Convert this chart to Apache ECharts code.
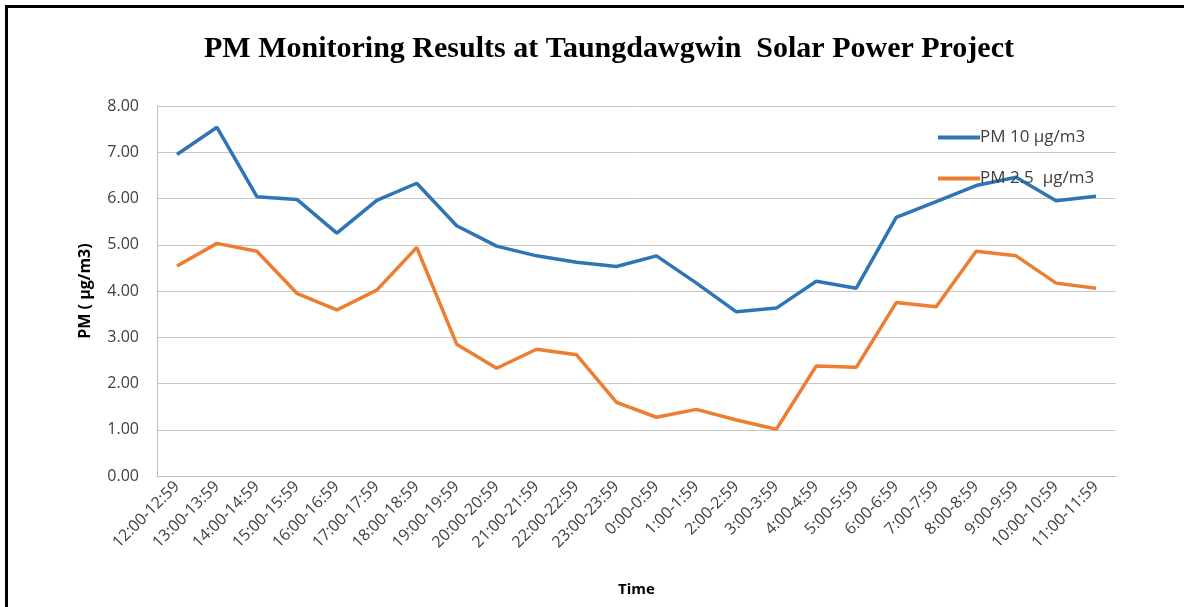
<!DOCTYPE html>
<html>
<head>
<meta charset="utf-8">
<script src="https://cdn.jsdelivr.net/npm/echarts@6/dist/echarts.min.js"></script>
<style>
  body { margin: 0; background: #fff; }
  #frame {
    position: absolute; left: 5px; top: 5px; width: 1179px; height: 599px;
    border-top: 3px solid #000; border-left: 3px solid #000; border-bottom: 2px solid #8c8c8c;
    pointer-events: none;
  }
</style>
</head>
<body>
<div id="myChartLine" style="position:absolute;left:0;top:0;width:1184px;height:607px;"></div>
<div id="frame"></div>
<script type="text/javascript">
var hours = ['12:00-12:59','13:00-13:59','14:00-14:59','15:00-15:59','16:00-16:59','17:00-17:59',
    '18:00-18:59','19:00-19:59','20:00-20:59','21:00-21:59','22:00-22:59','23:00-23:59',
    '0:00-0:59','1:00-1:59','2:00-2:59','3:00-3:59','4:00-4:59','5:00-5:59',
    '6:00-6:59','7:00-7:59','8:00-8:59','9:00-9:59','10:00-10:59','11:00-11:59'];
var pm10 = [6.95,7.54,6.04,5.98,5.25,5.96,6.33,5.41,4.97,4.76,4.62,4.53,
    4.76,4.17,3.55,3.63,4.21,4.06,5.59,5.93,6.28,6.46,5.95,6.05];
var pm25 = [4.54,5.03,4.86,3.95,3.59,4.02,4.94,2.85,2.33,2.74,2.62,1.59,
    1.27,1.44,1.21,1.01,2.38,2.35,3.75,3.66,4.86,4.76,4.17,4.06];
var yTicks = [0,1,2,3,4,5,6,7,8];

var myChart = echarts.init(document.getElementById('myChartLine'));

var option = {
    animation: false,
    title: {
        text: 'PM Monitoring Results at Taungdawgwin  Solar Power Project',
        left: 604,
        textAlign: 'center',
        top: 29,
        textStyle: {
            fontFamily: 'Liberation Serif',
            fontWeight: 'bold',
            fontSize: 30,
            color: '#000'
        }
    },
    legend: {
        orient: 'vertical',
        left: 933,
        top: 124,
        itemGap: 24,
        itemWidth: 42,
        itemHeight: 4,
        icon: 'rect',
        textStyle: { fontFamily: 'Open Sans', fontSize: 17, color: '#404040', padding: [0, 0, 0, -5] },
        data: ['PM 10 µg/m3', 'PM 2.5  µg/m3']
    },
    grid: {
        left: 157,
        top: 106,
        right: 68,
        bottom: 131
    },
    xAxis: {
        type: 'category',
        data: hours,
        name: 'Time',
        nameLocation: 'middle',
        nameGap: 106,
        nameTextStyle: { fontFamily: 'Open Sans', fontWeight: 'bold', fontSize: 15, color: '#000' },
        axisLine: { lineStyle: { color: '#bfbfbf', width: 1 } },
        axisTick: { show: false },
        axisLabel: {
            rotate: 45,
            interval: 0,
            fontFamily: 'Open Sans',
            fontSize: 16,
            color: '#404040',
            margin: 8
        }
    },
    yAxis: {
        type: 'value',
        min: yTicks[0],
        max: yTicks[yTicks.length - 1],
        interval: 1,
        name: 'PM ( µg/m3)',
        nameLocation: 'middle',
        nameGap: 64,
        nameTextStyle: { fontFamily: 'Open Sans', fontWeight: 'bold', fontSize: 16, color: '#000' },
        axisLine: { show: true, lineStyle: { color: '#bfbfbf', width: 1 } },
        axisTick: { show: false },
        splitLine: { lineStyle: { color: '#c8c8c8', width: 1 } },
        axisLabel: {
            fontFamily: 'Open Sans',
            fontSize: 16,
            color: '#404040',
            margin: 18,
            formatter: function (v) { return v.toFixed(2); }
        }
    },
    series: [
        {
            name: 'PM 10 µg/m3',
            type: 'line',
            data: pm10,
            symbol: 'none',
            lineStyle: { width: 3.5, color: '#2e75b6' },
            itemStyle: { color: '#2e75b6' }
        },
        {
            name: 'PM 2.5  µg/m3',
            type: 'line',
            data: pm25,
            symbol: 'none',
            lineStyle: { width: 3.5, color: '#ed7d31' },
            itemStyle: { color: '#ed7d31' }
        }
    ]
};
myChart.setOption(option);
</script>
</body>
</html>
